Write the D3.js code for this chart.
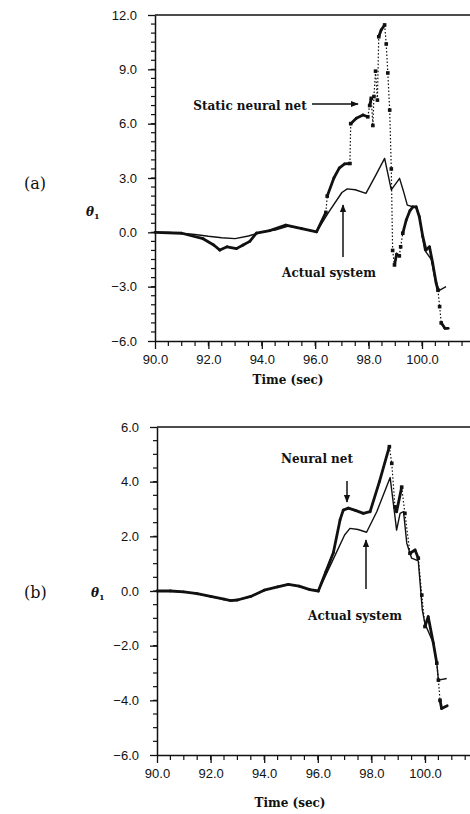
<!DOCTYPE html>
<html>
<head>
<meta charset="utf-8">
<script src="https://cdn.jsdelivr.net/npm/d3@7"></script>
<style>
  body { margin: 0; background: #fff; }
  svg { display: block; }
  .tick text { font-family: "Liberation Sans", Arial, sans-serif; font-size: 13px; fill: #111; }
  .tick line { stroke: #111; }
  .serif { font-family: "DejaVu Serif", serif; fill: #111; }
</style>
</head>
<body>
<div id="chart"></div>
<script>
// ----- data -----

// panel (a): actual system
const actualA_t = [90, 90.5, 91, 91.5, 92, 92.5, 93, 93.5, 94, 94.5, 95, 95.5, 96.05, 96.5, 97.0, 97.2, 97.5, 97.9, 98.25, 98.6, 98.85, 99.16, 99.3, 99.45, 99.66, 99.78, 99.9, 100.1, 100.35, 100.5, 100.65, 100.9]
const actualA_v = [0, 0, -0.05, -0.12, -0.22, -0.3, -0.35, -0.2, 0.02, 0.12, 0.35, 0.2, 0.03, 1.1, 2.2, 2.4, 2.35, 2.15, 3.1, 4.08, 2.34, 2.98, 2.3, 1.5, 1.41, 1.41, 0.86, -0.98, -1.5, -2.7, -3.2, -3.0]

// panel (a): static neural net
const staticA_t = [90, 91, 91.8, 92.2, 92.43, 92.7, 93.05, 93.3, 93.55, 93.8, 94.3, 94.9, 95.5, 96.05, 96.4, 96.45, 96.7, 96.9, 97.1, 97.3, 97.33, 97.54, 97.79, 97.97, 98.04, 98.1, 98.16, 98.2, 98.26, 98.33, 98.38, 98.47, 98.6, 98.66, 98.72, 98.79, 98.85, 98.9, 98.97, 99.05, 99.15, 99.2, 99.28, 99.41, 99.55, 99.66, 99.78, 99.9, 100.03, 100.15, 100.28, 100.4, 100.53, 100.6, 100.66, 100.72, 100.86, 100.98]
const staticA_v = [0, -0.05, -0.35, -0.7, -0.98, -0.8, -0.9, -0.7, -0.5, -0.04, 0.1, 0.4, 0.2, 0.03, 1.1, 2.0, 3.0, 3.55, 3.78, 3.8, 6.0, 6.3, 6.48, 6.38, 7.0, 7.4, 5.9, 7.5, 8.9, 7.3, 10.8, 11.17, 11.45, 10.4, 8.8, 6.75, 3.5, -1.0, -1.8, -1.2, -1.3, -0.8, -0.05, 0.68, 1.2, 1.41, 1.41, 0.86, -0.24, -0.98, -0.8, -1.7, -2.8, -3.2, -4.1, -5.0, -5.3, -5.3]

// panel (b): actual system
const actualB_t = [90, 90.5, 91, 91.5, 92, 92.5, 92.75, 93, 93.5, 94, 94.5, 94.9, 95.3, 95.7, 96.02, 96.5, 97.0, 97.2, 97.5, 97.82, 98.2, 98.7, 98.88, 98.94, 99.07, 99.2, 99.32, 99.5, 99.75, 99.9, 100.0, 100.31, 100.44, 100.5, 100.81]
const actualB_v = [0, 0, -0.03, -0.1, -0.2, -0.3, -0.35, -0.33, -0.2, 0.03, 0.15, 0.24, 0.18, 0.05, 0, 1.0, 2.05, 2.29, 2.25, 2.15, 2.9, 4.15, 2.72, 2.23, 2.84, 2.9, 1.75, 1.2, 1.1, -0.7, -1.2, -1.9, -2.64, -3.26, -3.2]

// panel (b): neural net
const neuralB_t = [90, 90.5, 91, 91.5, 92, 92.5, 92.75, 93, 93.5, 94, 94.5, 94.9, 95.3, 95.7, 96.02, 96.3, 96.58, 96.83, 96.95, 97.14, 97.4, 97.7, 97.95, 98.3, 98.67, 98.76, 98.88, 98.94, 99.13, 99.25, 99.44, 99.63, 99.75, 99.88, 100.0, 100.12, 100.31, 100.44, 100.5, 100.56, 100.62, 100.83]
const neuralB_v = [0, 0, -0.03, -0.1, -0.2, -0.3, -0.35, -0.33, -0.2, 0.03, 0.15, 0.24, 0.18, 0.05, 0, 0.7, 1.4, 2.6, 2.96, 3.03, 2.95, 2.84, 2.9, 4.0, 5.28, 4.67, 3.08, 2.9, 3.8, 2.84, 1.38, 1.5, 1.2, -0.15, -1.3, -0.94, -1.9, -2.64, -3.26, -4.0, -4.3, -4.2]

const xTicks = [90, 92, 94, 96, 98, 100]
const yTicksA = [-6, -3, 0, 3, 6, 9, 12]
const yTicksB = [-6, -4, -2, 0, 2, 4, 6]

// ----- layout -----
const width = 470, height = 814

const svg = d3.select("#chart").append("svg")
    .attr("width", width)
    .attr("height", height)

svg.append("defs").append("marker")
    .attr("id", "head")
    .attr("viewBox", [0, 0, 10, 10])
    .attr("refX", 9).attr("refY", 5)
    .attr("markerWidth", 8).attr("markerHeight", 8)
    .attr("markerUnits", "userSpaceOnUse")
    .attr("orient", "auto")
    .append("path")
    .attr("d", "M0,1 L10,5 L0,9 Z")
    .attr("fill", "#111")

const zip = (ts, vs) => ts.map((t, i) => [t, vs[i]])

function drawPanel(opt) {
    const x = d3.scaleLinear([90, 101.8], [opt.left, opt.left + 11.8 * opt.pxPerSec])
    const y = d3.scaleLinear(opt.yDomain, [opt.bottom, opt.top])
    const g = svg.append("g")

    // frame top line
    g.append("line")
        .attr("x1", opt.left).attr("x2", width)
        .attr("y1", opt.top).attr("y2", opt.top)
        .attr("stroke", "#111").attr("stroke-width", 1.5)

    // minor ticks, every 0.5 on both axes
    g.selectAll(".xminor").data(d3.range(90.5, 101.8, 0.5)).join("line")
        .attr("x1", d => x(d)).attr("x2", d => x(d))
        .attr("y1", opt.bottom).attr("y2", opt.bottom + 5)
        .attr("stroke", "#111").attr("stroke-width", 1.2)
    g.selectAll(".yminor").data(d3.range(opt.yDomain[0] + 0.5, opt.yDomain[1], 0.5)).join("line")
        .attr("x1", opt.left - 4).attr("x2", opt.left)
        .attr("y1", d => y(d)).attr("y2", d => y(d))
        .attr("stroke", "#111").attr("stroke-width", 1.2)

    // x axis
    g.append("g")
        .attr("transform", `translate(0,${opt.bottom})`)
        .call(d3.axisBottom(x).tickValues(xTicks).tickSize(8).tickPadding(6).tickSizeOuter(0).tickFormat(d3.format(".1f")))
        .call(a => a.select(".domain").attr("stroke-width", 1.5).attr("stroke", "#111"))
        .call(a => a.selectAll("line").attr("stroke-width", 1.3))

    // y axis
    g.append("g")
        .attr("transform", `translate(${opt.left},0)`)
        .call(d3.axisLeft(y).tickValues(opt.yTicks).tickSize(7).tickPadding(11).tickSizeOuter(0).tickFormat(d3.format(".1f")))
        .call(a => a.select(".domain").attr("stroke-width", 1.5).attr("stroke", "#111"))
        .call(a => a.selectAll("line").attr("stroke-width", 1.3))
    g.selectAll(".tick text").text(function () { return this.textContent.replace("-", "\u2212") })

    // actual system: thin solid line
    g.append("path")
        .datum(opt.actual)
        .attr("fill", "none")
        .attr("stroke", "#111")
        .attr("stroke-width", 1.4)
        .attr("stroke-linejoin", "round")
        .attr("d", d3.line().x(d => x(d[0])).y(d => y(d[1])))

    // neural net: thick where it moves slowly, dotted with markers where it jumps
    const pts = opt.net.map(d => [x(d[0]), y(d[1])])
    const segs = d3.pairs(pts).map(([a, b]) => ({ a, b, jump: Math.abs(b[1] - a[1]) > 6 * Math.abs(b[0] - a[0]) }))
    g.selectAll(".seg").data(segs).join("line")
        .attr("x1", d => d.a[0]).attr("y1", d => d.a[1])
        .attr("x2", d => d.b[0]).attr("y2", d => d.b[1])
        .attr("stroke", "#111")
        .attr("stroke-width", d => d.jump ? 1.2 : 2.8)
        .attr("stroke-linecap", d => d.jump ? "butt" : "round")
        .attr("stroke-dasharray", d => d.jump ? "1.5,2" : null)
    const marks = pts.filter((p, i) => (segs[i] && segs[i].jump) || (segs[i - 1] && segs[i - 1].jump))
    g.selectAll(".mk").data(marks).join("rect")
        .attr("x", d => d[0] - 1.8).attr("y", d => d[1] - 1.8)
        .attr("width", 3.6).attr("height", 3.6)
        .attr("fill", "#111")

    // labels
    g.append("text").attr("class", "serif")
        .attr("x", 24).attr("y", opt.tagY)
        .attr("font-size", 16)
        .text(opt.tag)
    const th = g.append("text").attr("class", "serif")
        .attr("x", opt.thetaX).attr("y", opt.thetaY)
        .attr("font-size", 12).attr("font-weight", "bold").attr("font-style", "italic")
    th.append("tspan").text("\u03b8")
    th.append("tspan").attr("font-size", 8).attr("dy", 3).attr("font-style", "normal").text("1")
    g.append("text").attr("class", "serif")
        .attr("x", opt.left + 133).attr("y", opt.timeY)
        .attr("text-anchor", "middle")
        .attr("font-size", 12).attr("font-weight", "bold")
        .text("Time (sec)")

    opt.notes.forEach(n => {
        g.append("text").attr("class", "serif")
            .attr("x", n.x).attr("y", n.y)
            .attr("text-anchor", "middle")
            .attr("font-size", 12).attr("font-weight", "bold")
            .text(n.text)
        g.append("line")
            .attr("x1", n.arrow[0]).attr("y1", n.arrow[1])
            .attr("x2", n.arrow[2]).attr("y2", n.arrow[3])
            .attr("stroke", "#111").attr("stroke-width", 1.5)
            .attr("marker-end", "url(#head)")
    })
}

drawPanel({
    left: 155, top: 15, bottom: 341, pxPerSec: 26.7,
    yDomain: [-6, 12], yTicks: yTicksA,
    actual: zip(actualA_t, actualA_v),
    net: zip(staticA_t, staticA_v),
    tag: "(a)", tagY: 189,
    thetaX: 86, thetaY: 216,
    timeY: 384,
    notes: [
        { text: "Static neural net", x: 250, y: 110, arrow: [312, 104, 358, 104] },
        { text: "Actual system", x: 329, y: 277, arrow: [343, 257, 343, 205] }
    ]
})

drawPanel({
    left: 157, top: 427, bottom: 755, pxPerSec: 26.8,
    yDomain: [-6, 6], yTicks: yTicksB,
    actual: zip(actualB_t, actualB_v),
    net: zip(neuralB_t, neuralB_v),
    tag: "(b)", tagY: 598,
    thetaX: 91, thetaY: 597,
    timeY: 807,
    notes: [
        { text: "Neural net", x: 317, y: 463, arrow: [347, 481, 347, 502] },
        { text: "Actual system", x: 355, y: 620, arrow: [366, 589, 366, 540] }
    ]
})
</script>
</body>
</html>
